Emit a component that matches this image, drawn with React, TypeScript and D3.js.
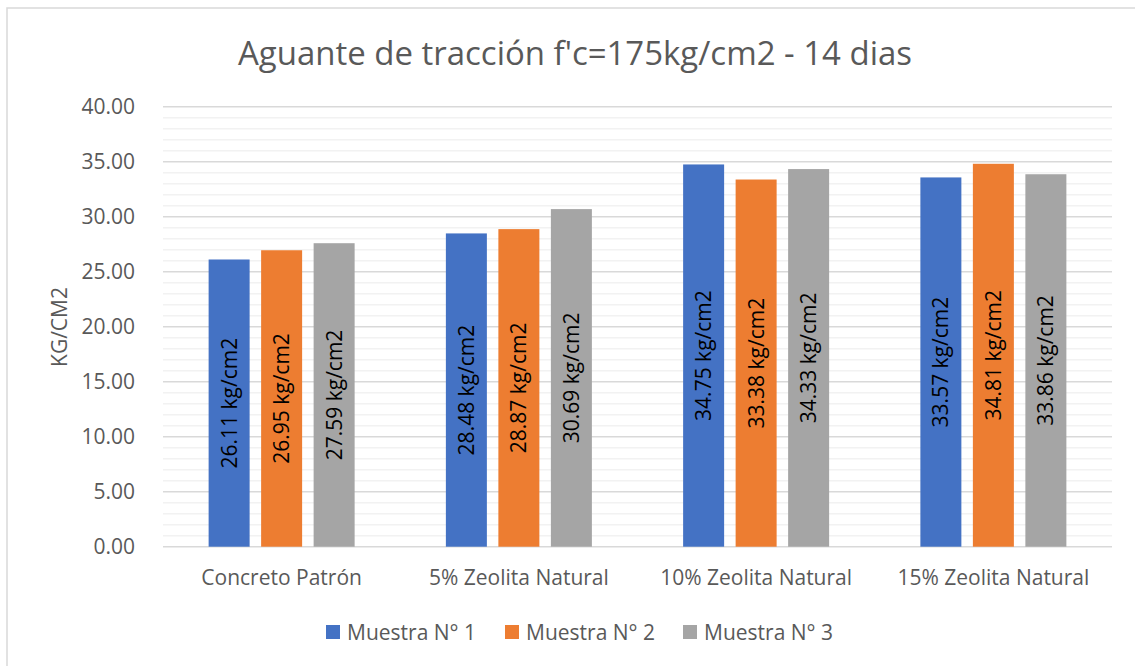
import React from "react";
import * as d3 from "d3";

const categories = ["Concreto Patrón", "5% Zeolita Natural", "10% Zeolita Natural", "15% Zeolita Natural"];
const seriesNames = ["Muestra N° 1", "Muestra N° 2", "Muestra N° 3"];
const muestra1 = [26.11, 28.48, 34.75, 33.57];
const muestra2 = [26.95, 28.87, 33.38, 34.81];
const muestra3 = [27.59, 30.69, 34.33, 33.86];
const yTicks = [0, 5, 10, 15, 20, 25, 30, 35, 40];
const seriesColors = ["#4472C4", "#ED7D31", "#A5A5A5"];

const W = 1135;
const H = 666;
const FONT = "'Open Sans', sans-serif";
const TEXT = "#595959";

export default function App() {
  const series = [muestra1, muestra2, muestra3];
  const plotLeft = 163;
  const plotRight = 1112;
  const plotTop = 106.7;
  const plotBottom = 546.7;

  const x0 = d3.scaleBand<string>().domain(categories).range([plotLeft, plotRight]).paddingInner(0).paddingOuter(0);
  const x1 = d3
    .scaleBand<string>()
    .domain(seriesNames)
    .range([0, x0.bandwidth()])
    .paddingInner(0.219)
    .paddingOuter(0.869);
  const y = d3.scaleLinear().domain([0, 40]).range([plotBottom, plotTop]);
  const minorTicks = d3.range(0, 41, 1).filter((v) => v % 5 !== 0);
  const fmt = d3.format(".2f");

  const legendX = [326, 505, 683];

  return (
    <div style={{ position: "fixed", left: 0, top: 0, width: W, height: H, background: "#fff" }}>
      <svg width={W} height={H} style={{ display: "block" }}>
        <rect x={0} y={0} width={W} height={H} fill="#fff" />
        <rect x={7} y={8} width={W + 20} height={H + 20} fill="none" stroke="#D9D9D9" strokeWidth={1.5} />

        <text
          x={575}
          y={65}
          textAnchor="middle"
          fontFamily={FONT}
          fontSize={33}
          fill={TEXT}
          textLength={674}
          lengthAdjust="spacingAndGlyphs"
        >
          Aguante de tracción f'c=175kg/cm2 - 14 dias
        </text>

        {/* minor gridlines */}
        {minorTicks.map((t) => (
          <line key={"m" + t} x1={plotLeft} x2={plotRight} y1={y(t)} y2={y(t)} stroke="#F2F2F2" strokeWidth={1.4} />
        ))}
        {/* major gridlines */}
        {yTicks.map((t) => (
          <line key={"g" + t} x1={plotLeft} x2={plotRight} y1={y(t)} y2={y(t)} stroke="#D9D9D9" strokeWidth={1.4} />
        ))}

        {/* y tick labels */}
        {yTicks.map((t) => (
          <text key={"t" + t} x={135} y={y(t) + 7.5} textAnchor="end" fontFamily={FONT} fontSize={21} fill={TEXT}>
            {fmt(t)}
          </text>
        ))}

        <text
          transform={`translate(67,327) rotate(-90)`}
          textAnchor="middle"
          fontFamily={FONT}
          fontSize={21}
          fill={TEXT}
        >
          KG/CM2
        </text>

        {/* bars */}
        {categories.map((c, ci) => (
          <g key={c} transform={`translate(${x0(c)},0)`}>
            {seriesNames.map((s, si) => {
              const v = series[si][ci];
              const bx = x1(s)!;
              const bw = x1.bandwidth();
              const top = y(v);
              const cy = (top + y(0)) / 2;
              return (
                <g key={s}>
                  <rect x={bx} y={top} width={bw} height={y(0) - top} fill={seriesColors[si]} />
                  <text
                    transform={`translate(${bx + bw / 2 + 7.5},${cy}) rotate(-90)`}
                    textAnchor="middle"
                    fontFamily={FONT}
                    fontSize={21}
                    fill="#000"
                  >
                    {`${fmt(v)} kg/cm2`}
                  </text>
                </g>
              );
            })}
          </g>
        ))}

        {/* category labels */}
        {categories.map((c) => (
          <text
            key={"c" + c}
            x={x0(c)! + x0.bandwidth() / 2}
            y={585}
            textAnchor="middle"
            fontFamily={FONT}
            fontSize={21}
            fill={TEXT}
          >
            {c}
          </text>
        ))}

        {/* legend */}
        {seriesNames.map((s, i) => (
          <g key={"l" + s}>
            <rect x={legendX[i]} y={625} width={14} height={14} fill={seriesColors[i]} />
            <text x={legendX[i] + 21} y={639.5} fontFamily={FONT} fontSize={21} fill={TEXT}>
              {s}
            </text>
          </g>
        ))}
      </svg>
    </div>
  );
}
